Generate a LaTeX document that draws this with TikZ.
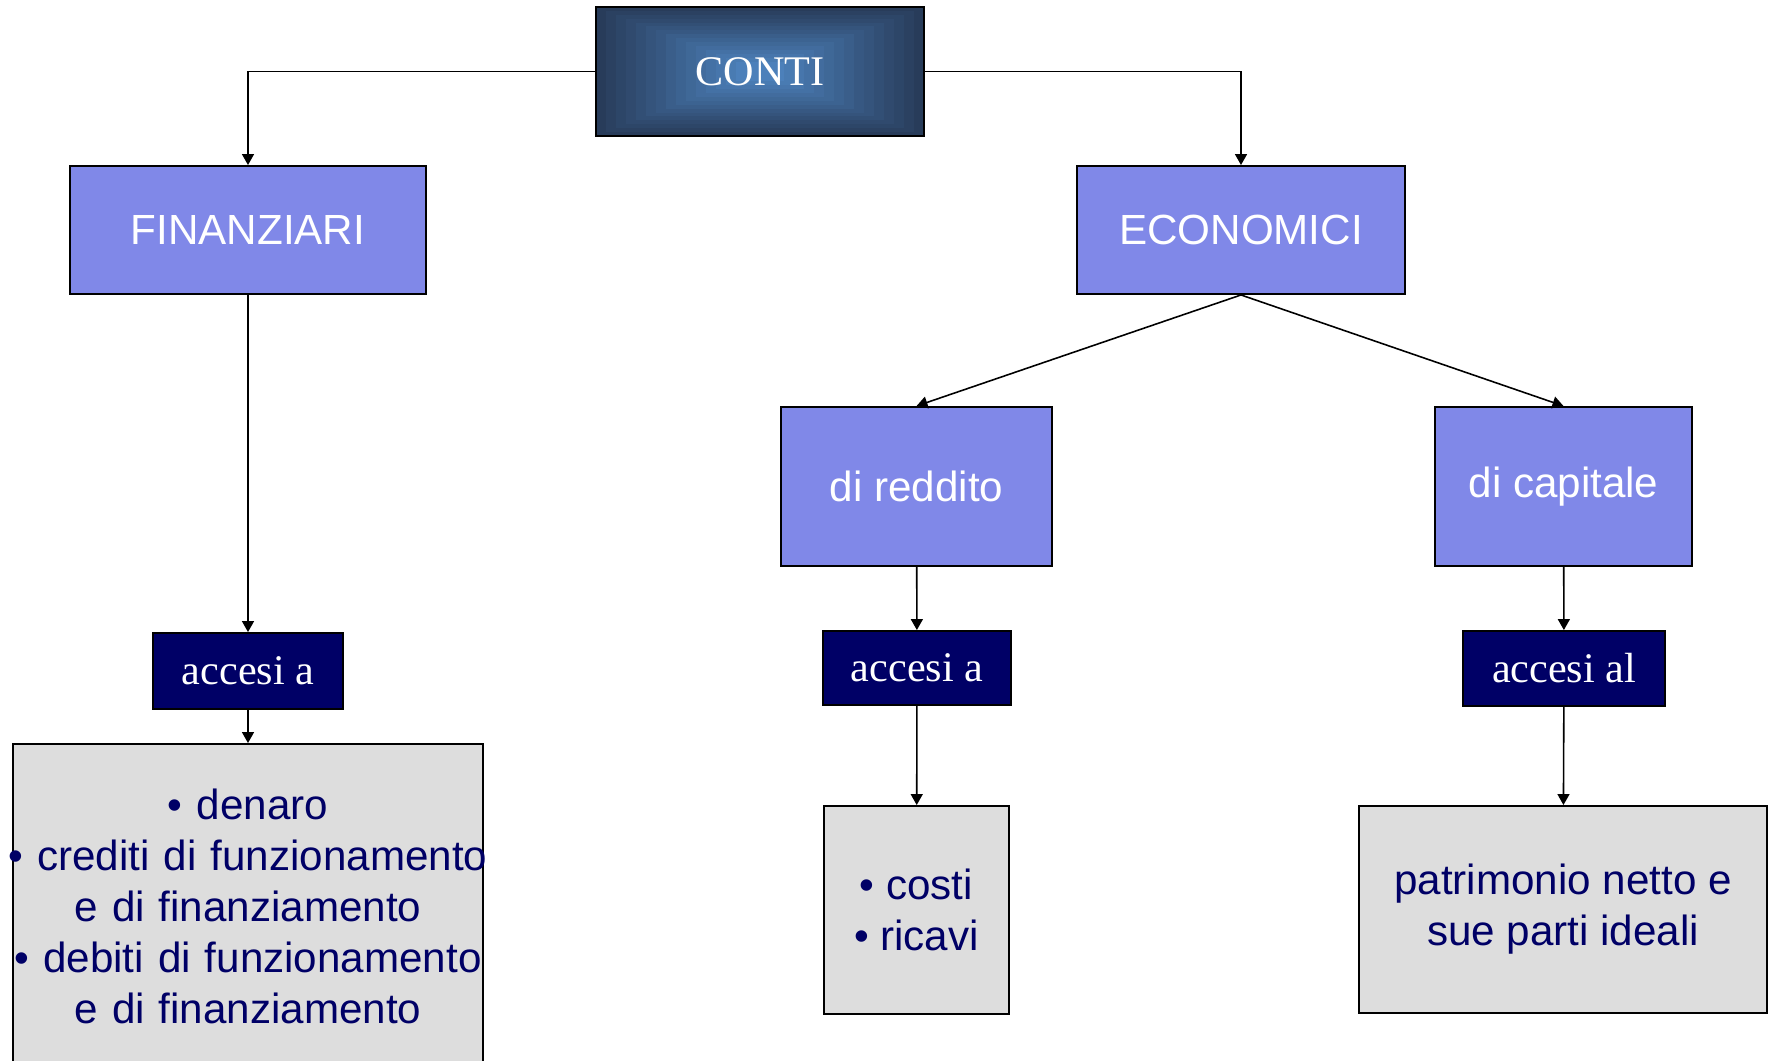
\documentclass[tikz,border=0pt]{standalone}
\usepackage{fontspec}
\setmainfont{Liberation Serif}
\setsansfont{Liberation Sans}
\usetikzlibrary{arrows.meta, positioning, calc}
\definecolor{cblue}{HTML}{8088E8}
\definecolor{cnavy}{HTML}{000066}
\definecolor{cgrey}{HTML}{DDDDDD}
\definecolor{cdark}{HTML}{283C5A}
\definecolor{clight}{HTML}{4C80BA}
\tikzset{
  every picture/.style={line width=0.9pt},
  big/.style={font=#1\fontsize{24}{29}\selectfont},
  head/.style={draw=black, line width=1.2pt, text=white, big=\rmfamily, inner sep=0pt,
    path picture={
      \foreach \k in {0,...,14}{
        \pgfmathtruncatemacro\mix{\k/14*100}
        \fill[clight!\mix!cdark]
          ($(path picture bounding box.south west)+(\k*0.2,\k*0.078)$)
          rectangle ($(path picture bounding box.north east)-(\k*0.2,\k*0.078)$);
      }}},
  box/.style={draw=black, fill=cblue, line width=1.1pt, text=white, big=\sffamily, inner sep=0pt},
  tag/.style={draw=black, fill=cnavy, line width=1.1pt, text=white, big=\rmfamily, inner sep=0pt},
  listbox/.style={draw=black, fill=cgrey, line width=1.1pt, text=cnavy, big=\sffamily, align=center, inner sep=0pt},
  arrow/.style={-{Triangle[length=0.22cm, width=0.24cm]}, draw=black, line width=0.9pt},
}
\newcommand{\wideline}[1]{\makebox[\linewidth]{#1}}
\begin{document}
\begin{tikzpicture}
  \useasboundingbox (0,0) rectangle (35.44,-21.22);
  % root
  \node[head, minimum width=6.56cm, minimum height=2.58cm] (conti) at (15.2,-1.43) {CONTI};
  % left branch: financial accounts
  \node[box, minimum width=7.12cm, minimum height=2.56cm] (fin) at (4.96,-4.6) {FINANZIARI};
  \node[tag, minimum width=3.8cm, minimum height=1.52cm] (acc1) at (4.96,-13.42) {accesi a};
  \node[listbox, text width=9.4cm, minimum height=6.48cm] (l1) at (4.96,-18.12)
    {• denaro\\\wideline{• crediti di funzionamento}\\e di finanziamento\\\wideline{• debiti di funzionamento}\\e di finanziamento};
  % right branch: economic accounts
  \node[box, minimum width=6.56cm, minimum height=2.56cm] (eco) at (24.82,-4.6) {ECONOMICI};
  \node[box, minimum width=5.42cm, minimum height=3.18cm] (red) at (18.33,-9.73) {di reddito};
  \node[box, minimum width=5.14cm, minimum height=3.18cm] (cap) at (31.27,-9.73) {di capitale};
  \node[tag, minimum width=3.76cm, minimum height=1.48cm] (acc2) at (18.34,-13.36) {accesi a};
  \node[tag, minimum width=4.04cm, minimum height=1.5cm] (acc3) at (31.28,-13.37) {accesi al};
  \node[listbox, minimum width=3.7cm, minimum height=4.16cm] (l2) at (18.33,-18.2) {• costi\\• ricavi};
  \node[listbox, minimum width=8.16cm, minimum height=4.14cm] (l3) at (31.26,-18.19) {patrimonio netto e\\sue parti ideali};
  % connectors
  \draw[arrow] (conti.west) -| (fin.north);
  \draw[arrow] (conti.east) -| (eco.north);
  \draw[arrow] (eco.south) -- (red.north); \draw[arrow] (eco.south) -- (cap.north);
  \draw[arrow] (fin) -- (acc1); \draw[arrow] (acc1) -- (l1);
  \draw[arrow] (red) -- (acc2); \draw[arrow] (acc2) -- (l2);
  \draw[arrow] (cap) -- (acc3); \draw[arrow] (acc3) -- (l3);
\end{tikzpicture}
\end{document}
